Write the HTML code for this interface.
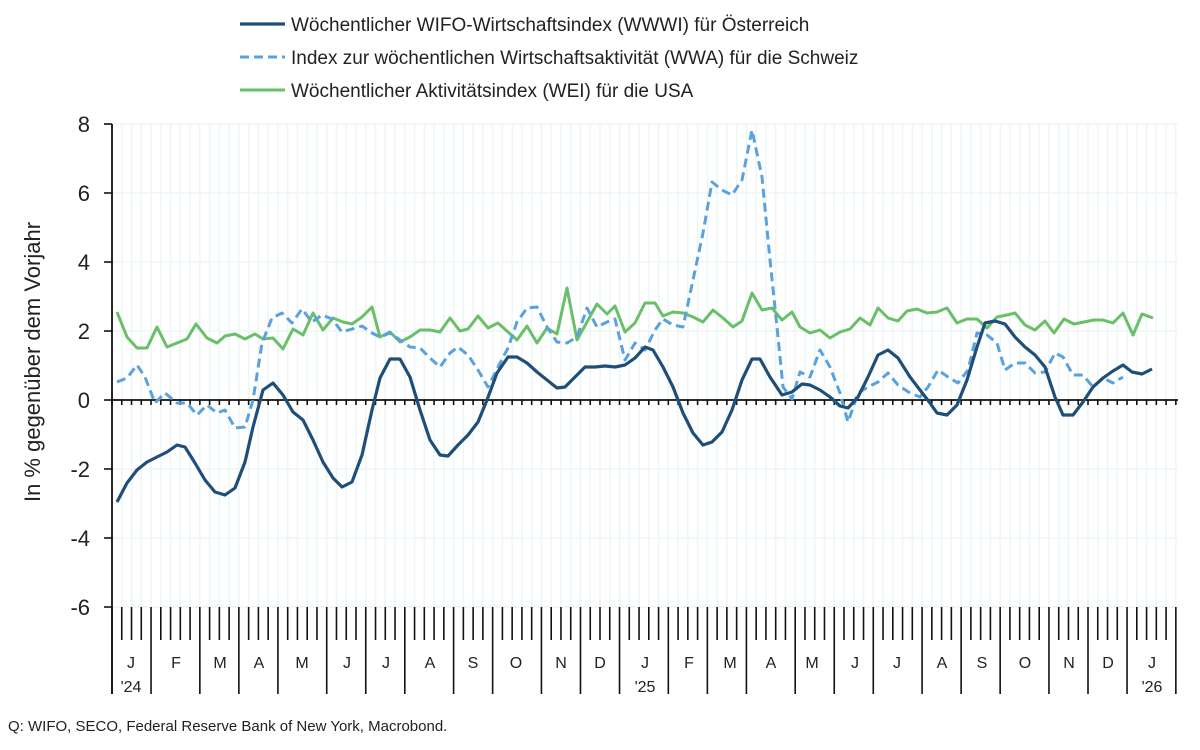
<!DOCTYPE html>
<html><head><meta charset="utf-8"><style>
html,body{margin:0;padding:0;background:#fff;}
svg text{font-family:"Liberation Sans",sans-serif;fill:#222;}
</style></head><body>
<svg width="1200" height="745" viewBox="0 0 1200 745" xmlns="http://www.w3.org/2000/svg">
<g id="vg" stroke="#edf5f5" stroke-width="1.5"></g>
<g stroke="#edf5f5" stroke-width="1.5">
<line x1="113" y1="124" x2="1178" y2="124"/><line x1="113" y1="193" x2="1178" y2="193"/>
<line x1="113" y1="262" x2="1178" y2="262"/><line x1="113" y1="331" x2="1178" y2="331"/>
<line x1="113" y1="469" x2="1178" y2="469"/><line x1="113" y1="538" x2="1178" y2="538"/>
<line x1="113" y1="607" x2="1178" y2="607"/>
</g>
<g id="ticks" stroke="#111" stroke-width="1.6"></g>
<line x1="112" y1="124" x2="112" y2="694" stroke="#111" stroke-width="1.8"/>
<line x1="112" y1="400" x2="1178" y2="400" stroke="#111" stroke-width="1.8"/>
<g stroke="#111" stroke-width="1.6">
<line x1="104" y1="124" x2="112" y2="124"/><line x1="104" y1="193" x2="112" y2="193"/><line x1="104" y1="262" x2="112" y2="262"/><line x1="104" y1="331" x2="112" y2="331"/><line x1="104" y1="400" x2="112" y2="400"/><line x1="104" y1="469" x2="112" y2="469"/><line x1="104" y1="538" x2="112" y2="538"/><line x1="104" y1="607" x2="112" y2="607"/>
</g>
<g font-size="22" text-anchor="end">
<text x="90" y="132">8</text><text x="90" y="201">6</text><text x="90" y="270">4</text><text x="90" y="339">2</text><text x="90" y="408">0</text><text x="90" y="477">-2</text><text x="90" y="546">-4</text><text x="90" y="615">-6</text>
</g>
<text transform="translate(40,362) rotate(-90)" font-size="22" text-anchor="middle">In % gegenüber dem Vorjahr</text>
<g font-size="16" text-anchor="middle" fill="#333">
<text x="131" y="668">J</text><text x="131" y="692">'24</text>
<text x="176" y="668">F</text><text x="220" y="668">M</text><text x="259" y="668">A</text><text x="302" y="668">M</text><text x="347" y="668">J</text><text x="386" y="668">J</text><text x="430" y="668">A</text><text x="473" y="668">S</text><text x="516" y="668">O</text><text x="561" y="668">N</text><text x="600" y="668">D</text>
<text x="645" y="668">J</text><text x="645" y="692">'25</text>
<text x="689" y="668">F</text><text x="730" y="668">M</text><text x="771" y="668">A</text><text x="812" y="668">M</text><text x="855" y="668">J</text><text x="897" y="668">J</text><text x="942" y="668">A</text><text x="982" y="668">S</text><text x="1025" y="668">O</text><text x="1069" y="668">N</text><text x="1108" y="668">D</text>
<text x="1152" y="668">J</text><text x="1152" y="692">'26</text>
</g>
<polyline fill="none" stroke="#6abf69" stroke-width="3" stroke-linejoin="round" points="117,312 127,337 137,348 147,348 157,327 167,347 177,343 187,339 196,324 207,338 217,343 225,336 235,334 245,339 255,334 263,339 273,338 283,349 293,329 303,335 313,313 323,330 333,318 343,322 352,324 362,317 372,307 380,337 390,332 400,342 410,337 420,330 430,330 440,332 450,318 460,331 468,329 478,316 488,328 498,323 508,332 517,340 527,326 537,343 547,328 557,334 567,288 577,340 587,322 597,304 607,314 615,306 625,332 635,323 645,303 655,303 663,316 673,312 683,313 693,317 703,322 713,310 723,318 733,327 742,321 752,293 762,310 772,308 782,320 792,312 800,327 810,333 820,330 830,338 840,332 850,329 860,318 870,325 878,308 888,318 898,321 907,311 917,309 927,313 937,312 947,308 957,323 967,319 977,319 987,328 997,317 1007,315 1015,313 1025,325 1035,330 1045,321 1054,333 1064,319 1074,324 1084,322 1094,320 1103,320 1113,323 1123,313 1133,335 1142,314 1153,318"/>
<polyline fill="none" stroke="#5aa2dd" stroke-width="3" stroke-dasharray="9,5" stroke-linejoin="round" points="117,382 127,378 137,365 145,377 155,403 165,393 177,403 187,403 197,415 207,405 217,413 225,410 235,428 245,427 253,400 262,343 272,318 282,313 292,323 302,309 312,322 322,315 332,319 342,332 352,329 362,326 372,333 380,337 390,333 400,340 410,347 420,348 430,358 440,367 450,353 458,347 468,355 478,370 488,387 498,367 508,348 517,322 527,308 537,307 547,327 557,342 567,343 577,337 587,308 597,327 607,322 615,319 625,360 635,343 645,350 655,330 663,319 673,325 683,327 693,280 703,233 712,182 722,190 732,195 742,180 752,130 762,177 770,260 777,327 783,387 792,399 800,372 810,377 820,350 830,367 840,393 848,422 858,393 868,387 878,382 888,373 898,385 910,393 920,397 928,387 938,370 948,377 958,383 968,370 977,333 987,335 997,343 1005,370 1015,363 1025,363 1035,373 1045,372 1055,353 1063,357 1073,375 1083,375 1093,387 1103,378 1113,383 1123,377"/>
<polyline fill="none" stroke="#1f4e79" stroke-width="3.2" stroke-linejoin="round" points="117,502 127,483 137,470 147,462 157,457 167,452 177,445 185,447 195,463 205,480 215,492 225,495 235,488 245,462 253,427 263,390 273,383 283,395 293,412 303,420 313,440 323,462 333,478 342,487 352,482 362,455 372,410 380,378 390,359 400,359 410,377 420,410 430,440 440,455 448,456 458,445 468,435 478,422 487,400 497,373 508,357 517,357 527,363 537,372 547,380 557,388 565,387 575,377 585,367 595,367 605,366 615,367 625,365 635,358 645,347 653,350 663,367 673,387 683,413 693,433 703,445 712,442 722,432 732,410 742,380 752,359 760,359 770,377 782,395 792,392 802,384 810,385 820,390 830,397 840,406 848,408 858,397 868,377 878,355 888,350 898,358 910,377 920,390 930,403 937,413 947,415 957,405 967,380 977,347 985,323 995,321 1005,324 1015,337 1025,347 1035,355 1045,367 1055,397 1063,415 1073,415 1083,402 1093,387 1103,378 1113,371 1123,365 1132,372 1142,374 1152,369"/>
<line x1="240" y1="24" x2="285" y2="24" stroke="#1f4e79" stroke-width="3.2"/>
<line x1="240" y1="57" x2="285" y2="57" stroke="#5aa2dd" stroke-width="3" stroke-dasharray="9,5"/>
<line x1="240" y1="90" x2="285" y2="90" stroke="#6abf69" stroke-width="3"/>
<g font-size="19">
<text x="291" y="31">Wöchentlicher WIFO-Wirtschaftsindex (WWWI) für Österreich</text>
<text x="291" y="64">Index zur wöchentlichen Wirtschaftsaktivität (WWA) für die Schweiz</text>
<text x="291" y="97">Wöchentlicher Aktivitätsindex (WEI) für die USA</text>
</g>
<text x="8" y="731" font-size="15">Q: WIFO, SECO, Federal Reserve Bank of New York, Macrobond.</text>
<script>
var vg=document.getElementById('vg'),tk=document.getElementById('ticks'),ns='http://www.w3.org/2000/svg';
var mb=[0,4,9,13,17,22,26,30,35,39,44,48,52,57,61,65,70,74,78,83,87,91,96,100,104,109];
for(var w=0;w<=109;w++){var x=112+w*9.76;
var l=document.createElementNS(ns,'line');l.setAttribute('x1',x);l.setAttribute('x2',x);l.setAttribute('y1',124);l.setAttribute('y2',607);vg.appendChild(l);
var t=document.createElementNS(ns,'line');t.setAttribute('x1',x);t.setAttribute('x2',x);t.setAttribute('y1',400);t.setAttribute('y2',405);tk.appendChild(t);
var b=document.createElementNS(ns,'line');b.setAttribute('x1',x);b.setAttribute('x2',x);b.setAttribute('y1',607);b.setAttribute('y2',mb.indexOf(w)>=0?694:640);tk.appendChild(b);}
</script>
</svg>
</body></html>
